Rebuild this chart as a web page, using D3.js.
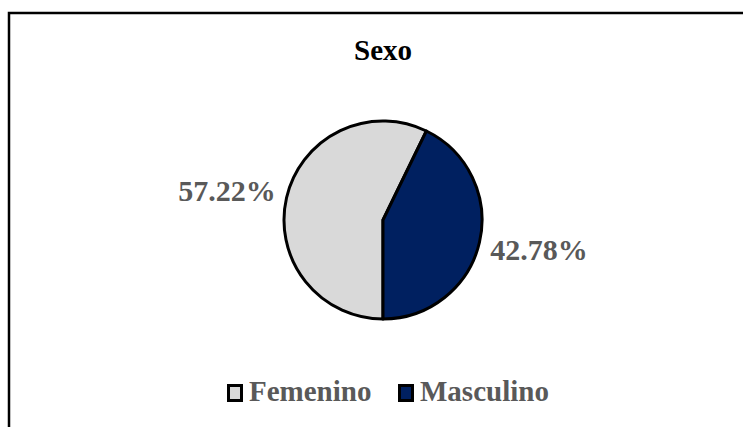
<!DOCTYPE html>
<html>
<head>
  <meta charset="UTF-8">
  <script src="https://cdn.jsdelivr.net/npm/d3@7"></script>
  <style>
    body { margin: 0; background: #fff; }
    text { font-family: "Liberation Serif", "Times New Roman", serif; font-weight: bold; }
  </style>
</head>
<body>
<script>
  var categories = ["Femenino", "Masculino"];
  var values = [57.22, 42.78];
  var colors = ["#d9d9d9", "#002060"];

  var width = 743, height = 427;
  var cx = 383, cy = 220, radius = 99;

  var svg = d3.select("body").append("svg")
    .attr("width", width)
    .attr("height", height);

  // chart border (runs off right and bottom edges)
  svg.append("rect")
    .attr("x", 9).attr("y", 13)
    .attr("width", 760).attr("height", 440)
    .attr("fill", "none")
    .attr("stroke", "#000")
    .attr("stroke-width", 2.5);

  svg.append("text")
    .attr("x", cx).attr("y", 60)
    .attr("text-anchor", "middle")
    .style("font-size", "29px")
    .attr("fill", "#000")
    .text("Sexo");

  var data = categories.map(function (c, i) { return { name: c, value: values[i] }; });

  var pie = d3.pie()
    .sort(null)
    .value(function (d) { return d.value; })
    .startAngle(Math.PI)
    .endAngle(3 * Math.PI);

  var arc = d3.arc().innerRadius(0).outerRadius(radius);

  var g = svg.append("g").attr("transform", "translate(" + cx + "," + cy + ")");

  var arcs = pie(data);

  g.selectAll("path")
    .data(arcs)
    .enter().append("path")
    .attr("d", arc)
    .attr("fill", function (d, i) { return colors[i]; })
    .attr("stroke", "#000")
    .attr("stroke-width", 3)
    .attr("stroke-linejoin", "round");

  // labels placed on an ellipse outside the pie
  var rx = 160, ry = 130;

  g.selectAll(".lbl")
    .data(arcs)
    .enter().append("text")
    .attr("class", "lbl")
    .attr("transform", function (d) {
      var a = (d.startAngle + d.endAngle) / 2;
      return "translate(" + (Math.sin(a) * rx) + "," + (-Math.cos(a) * ry) + ")";
    })
    .attr("dy", "0.35em")
    .attr("text-anchor", "middle")
    .style("font-size", "30px")
    .attr("fill", "#595959")
    .text(function (d) { return d3.format(".2f")(d.data.value) + "%"; });

  // legend
  var legendX = [227, 398];
  var legend = svg.selectAll(".leg")
    .data(data)
    .enter().append("g")
    .attr("class", "leg")
    .attr("transform", function (d, i) { return "translate(" + legendX[i] + ",384)"; });

  legend.append("rect")
    .attr("x", 1.5).attr("y", 1.5)
    .attr("width", 13).attr("height", 15)
    .attr("fill", function (d, i) { return colors[i]; })
    .attr("stroke", "#000")
    .attr("stroke-width", 3);

  legend.append("text")
    .attr("x", 22).attr("y", 17)
    .style("font-size", "29px")
    .attr("fill", "#595959")
    .text(function (d) { return d.name; });
</script>
</body>
</html>
